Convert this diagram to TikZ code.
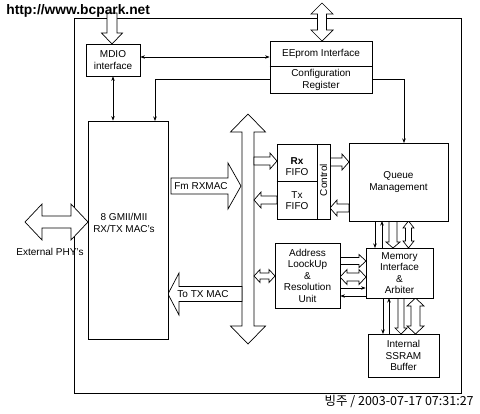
\documentclass[tikz,border=0pt]{standalone}
\usepackage{fontspec}
\setmainfont{Liberation Sans}
\newfontfamily\krfont{Noto Sans CJK KR}
\usetikzlibrary{arrows.meta}
% horizontal fat arrow: x1, xtip, y, shaft half, head half, head length (negative for leftward)
\newcommand\fatH[6]{\draw[fat] ({#1},{#3-#4}) -- ({#2-#6},{#3-#4}) -- ({#2-#6},{#3-#5}) -- ({#2},{#3}) -- ({#2-#6},{#3+#5}) -- ({#2-#6},{#3+#4}) -- ({#1},{#3+#4}) -- cycle;}
% horizontal double fat arrow: xtip1, xtip2 (xtip1<xtip2), y, s, h, L
\newcommand\fatHH[6]{\draw[fat] ({#1},{#3}) -- ({#1+#6},{#3-#5}) -- ({#1+#6},{#3-#4}) -- ({#2-#6},{#3-#4}) -- ({#2-#6},{#3-#5}) -- ({#2},{#3}) -- ({#2-#6},{#3+#5}) -- ({#2-#6},{#3+#4}) -- ({#1+#6},{#3+#4}) -- ({#1+#6},{#3+#5}) -- cycle;}
% vertical fat arrow: y1, ytip, x, s, h, L (negative for upward)
\newcommand\fatV[6]{\draw[fat] ({#3-#4},{#1}) -- ({#3-#4},{#2-#6}) -- ({#3-#5},{#2-#6}) -- ({#3},{#2}) -- ({#3+#5},{#2-#6}) -- ({#3+#4},{#2-#6}) -- ({#3+#4},{#1}) -- cycle;}
% vertical double fat arrow: ytip1 (top), ytip2 (bottom), x, s, h, L
\newcommand\fatVV[6]{\draw[fat] ({#3},{#1}) -- ({#3-#5},{#1+#6}) -- ({#3-#4},{#1+#6}) -- ({#3-#4},{#2-#6}) -- ({#3-#5},{#2-#6}) -- ({#3},{#2}) -- ({#3+#5},{#2-#6}) -- ({#3+#4},{#2-#6}) -- ({#3+#4},{#1+#6}) -- ({#3+#5},{#1+#6}) -- cycle;}
\begin{document}
\begin{tikzpicture}[x=1pt,y=-1pt,line width=0.75pt,
  box/.style={draw,fill=white,inner sep=0pt,align=center,font=\fontsize{10}{11.5}\selectfont},
  txt/.style={inner sep=0pt,align=center,font=\fontsize{10}{11.5}\selectfont},
  conn/.style={draw,line width=0.7pt},
  fat/.style={draw,fill=white,line width=0.7pt,line join=miter},
  >={Stealth[length=4.5pt,width=3.5pt]}]
\useasboundingbox[fill=white] (0,0) rectangle (480,413);
% outer frame
\draw (74,18) rectangle (461,393);

% fat arrows
\fatV{13}{44}{112}{5}{10.5}{11}
\fatVV{3}{41}{322}{4.5}{11}{11}
\fatHH{25}{88}{222}{6}{18}{17}
\fatVV{114}{344}{248}{6}{17.5}{18}
\fatH{171}{241}{186}{8}{23}{13}
\fatH{242}{168}{294}{7.5}{21}{-11}
\fatH{254}{277}{161}{4}{8}{7}
\fatH{277}{254}{200}{4}{8}{-7}
\fatH{330}{349}{162}{4}{8}{7}
\fatH{349}{330}{208}{4}{8}{-7}
\fatHH{254}{275}{276}{3}{6.5}{6}
\fatH{340}{366}{261}{3.5}{6.5}{7}
\fatHH{340}{366}{277}{4}{7.5}{7}
\fatV{221}{248}{393}{4}{7}{6}
\fatVV{221}{248}{408.5}{3}{5.5}{7}
\fatV{298}{334}{401}{3}{6}{6}
\fatVV{298}{334}{415.5}{4.5}{8.5}{8}

% boxes
\node[box,minimum width=54pt,minimum height=32pt] (mdio) at (113,60) {MDIO\\interface};
\node[box,minimum width=102pt,minimum height=52pt] (eep) at (321,67) {};
\draw (eep.west |- 0,66) -- (eep.east |- 0,66);
\node[txt] (eepi) at (321,53.5) {EEprom Interface};
\node[txt] (cfg) at (321,80) {Configuration\\Register};
\node[box,minimum width=80pt,minimum height=218pt] (gmii) at (128,230) {};
\node[txt] (gmiit) at (124,223) {8 GMII/MII\\RX/TX MAC's};
\node[box,minimum width=53pt,minimum height=75pt] (fifo) at (303.5,181.5) {};
\draw (fifo.west |- 0,181) -- (317,181);
\draw (317,144) -- (317,219);
\node[txt] (rx) at (297,166.5) {\textbf{Rx}\\FIFO};
\node[txt] (tx) at (297,200.5) {Tx\\FIFO};
\node[txt,rotate=90] (ctl) at (323.5,180) {Control};
\node[box,minimum width=99pt,minimum height=78pt] (queue) at (398.5,182) {Queue\\Management};
\node[box,minimum width=65pt,minimum height=65pt] (addr) at (307.5,275.5) {Address\\LoockUp\\\&\\Resolution\\Unit};
\node[box,minimum width=67pt,minimum height=50pt] (mem) at (399.5,273) {Memory\\Interface\\\&\\Arbiter};
\node[box,minimum width=71pt,minimum height=43pt] (ssram) at (403.5,355.5) {Internal\\SSRAM\\Buffer};

% labels
\node[txt] (phy) at (50,252) {External PHY's};
\node[txt] (fmrx) at (201,186) {Fm RXMAC};
\node[txt] (totx) at (203,294) {To TX MAC};

% thin connectors
\draw[conn,<->] (mdio.east |- 0,57) -- (eep.west |- 0,57);
\draw[conn,<->] (mdio.south) -- (mdio.south |- gmii.north);
\draw[conn,->] (eep.west |- 0,79) -- (155,79) -- (155,121);
\draw[conn,->] (eep.east |- 0,79) -- (404,79) -- (404,143);
\draw[conn,->] (375,221) -- (375,248);
\draw[conn,->] (382,248) -- (382,221);
\draw[conn,->] (383,298) -- (383,334);
\draw[conn,->] (389,334) -- (389,298);
\draw[conn,->] (addr.east |- 0,288) -- (mem.west |- 0,288);
\draw[conn,->] (mem.west |- 0,296) -- (addr.east |- 0,296);

% watermark texts
\node[inner sep=0pt,anchor=west,font=\bfseries\fontsize{13.8}{15}\selectfont] (url) at (6,11) {http://www.bcpark.net};
\node[inner sep=0pt,anchor=east,font=\krfont\fontsize{12.5}{14}\selectfont] (stamp) at (474,401) {빙주 / 2003-07-17 07:31:27};
\end{tikzpicture}
\end{document}
